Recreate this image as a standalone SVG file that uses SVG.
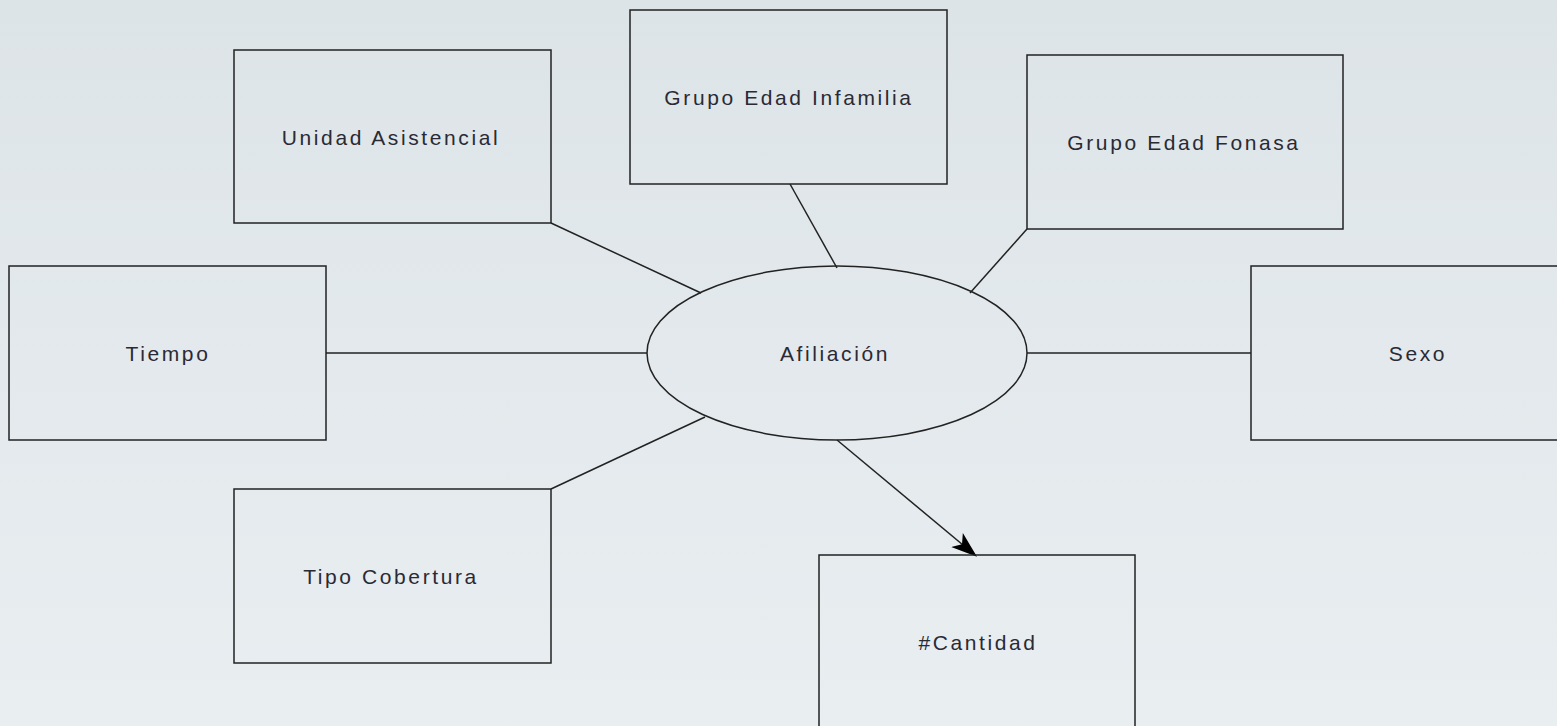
<svg xmlns="http://www.w3.org/2000/svg" width="1557" height="726" viewBox="0 0 1557 726">
<defs>
<linearGradient id="bg" x1="0" y1="0" x2="0" y2="1">
<stop offset="0" stop-color="#dde4e7"/>
<stop offset="1" stop-color="#e9eef1"/>
</linearGradient>
<marker id="arr" viewBox="0 0 20 20" refX="18" refY="10" markerWidth="26" markerHeight="26" markerUnits="userSpaceOnUse" orient="auto">
<path d="M0,3 L20,10 L0,17 L5,10 Z" fill="#000"/>
</marker>
<style>
.box{fill:none;stroke:#222;stroke-width:1.5}
.lbl{font-family:"Liberation Sans",Arial,sans-serif;font-size:21px;letter-spacing:2.6px;fill:#2a2a35;text-anchor:middle;dominant-baseline:central}
.ln{stroke:#222;stroke-width:1.5;fill:none}
</style>
</defs>
<rect width="1557" height="726" fill="url(#bg)"/>
<g id="connectors">
<line class="ln" x1="551" y1="223" x2="701" y2="293"/>
<line class="ln" x1="790" y1="184" x2="837" y2="268"/>
<line class="ln" x1="1027" y1="229" x2="970" y2="293"/>
<line class="ln" x1="326" y1="353" x2="647" y2="353"/>
<line class="ln" x1="1027" y1="353" x2="1251" y2="353"/>
<line class="ln" x1="551" y1="489" x2="705" y2="417"/>
<line class="ln" x1="837" y1="440" x2="975" y2="555" marker-end="url(#arr)"/>
</g>
<g id="unidad"><rect class="box" x="234" y="50" width="317" height="173"/><text class="lbl" x="391" y="137">Unidad Asistencial</text></g>
<g id="infamilia"><rect class="box" x="630" y="10" width="317" height="174"/><text class="lbl" x="789" y="97">Grupo Edad Infamilia</text></g>
<g id="fonasa"><rect class="box" x="1027" y="55" width="316" height="174"/><text class="lbl" x="1184" y="142">Grupo Edad Fonasa</text></g>
<g id="tiempo"><rect class="box" x="9" y="266" width="317" height="174"/><text class="lbl" x="168" y="353">Tiempo</text></g>
<g id="sexo"><rect class="box" x="1251" y="266" width="330" height="174"/><text class="lbl" x="1418" y="353">Sexo</text></g>
<g id="tipo"><rect class="box" x="234" y="489" width="317" height="174"/><text class="lbl" x="391" y="576">Tipo Cobertura</text></g>
<g id="cantidad"><rect class="box" x="819" y="555" width="316" height="190"/><text class="lbl" x="978" y="642">#Cantidad</text></g>
<g id="afiliacion"><ellipse class="box" cx="837" cy="353" rx="190" ry="87"/><text class="lbl" x="835" y="353">Afiliación</text></g>
</svg>
